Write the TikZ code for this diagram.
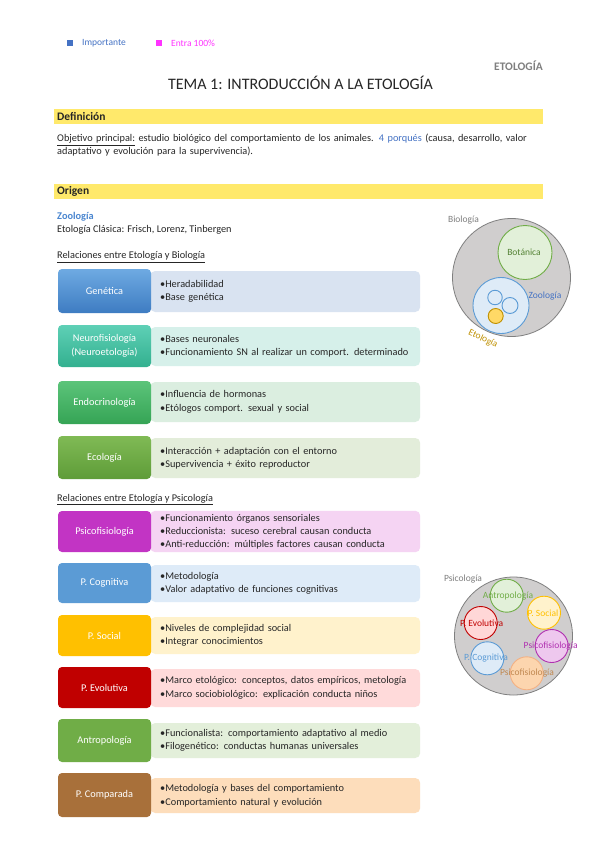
\documentclass[tikz,border=0pt]{standalone}
\usepackage{fontspec}
\setmainfont{Carlito}
\definecolor{impblue}{HTML}{4472C4}
\definecolor{entramag}{HTML}{FF33FF}
\definecolor{hdryel}{HTML}{FFE96B}
\definecolor{txtc}{HTML}{262626}
\definecolor{grayc}{HTML}{7F7F7F}
\definecolor{zoob}{HTML}{4A86D0}
% left box colours
\definecolor{genT}{HTML}{6EAAE2}\definecolor{genB}{HTML}{3E7CC2}\definecolor{genR}{HTML}{D9E3F1}
\definecolor{neuT}{HTML}{5ED0B6}\definecolor{neuB}{HTML}{33B08F}\definecolor{neuR}{HTML}{D6F0EA}
\definecolor{endT}{HTML}{5CC47A}\definecolor{endB}{HTML}{35A455}\definecolor{endR}{HTML}{DBEEE0}
\definecolor{ecoT}{HTML}{80BA55}\definecolor{ecoB}{HTML}{5E9C38}\definecolor{ecoR}{HTML}{E3EDDA}
\definecolor{psfC}{HTML}{C234C4}\definecolor{psfR}{HTML}{F5D4F3}
\definecolor{cogC}{HTML}{5B9BD5}\definecolor{cogR}{HTML}{DEEBF8}
\definecolor{socC}{HTML}{FFC000}\definecolor{socR}{HTML}{FFF2CC}
\definecolor{evoC}{HTML}{C00000}\definecolor{evoR}{HTML}{FFDADA}
\definecolor{antC}{HTML}{70AD47}\definecolor{antR}{HTML}{E3EFDA}
\definecolor{comC}{HTML}{A8703A}\definecolor{comR}{HTML}{FDDDBB}
% venn colours
\definecolor{venngray}{HTML}{D0CECE}
\definecolor{botF}{HTML}{E2F0D9}\definecolor{botS}{HTML}{70AD47}\definecolor{botT}{HTML}{548235}
\definecolor{zooF}{HTML}{DEEBF7}\definecolor{zooS}{HTML}{5B9BD5}
\definecolor{etoF}{HTML}{FFD966}\definecolor{etoS}{HTML}{BF9000}
\definecolor{evoF}{HTML}{FFD7D7}
\definecolor{psfF}{HTML}{EEC8EE}\definecolor{psfS}{HTML}{B030B0}
\definecolor{orF}{HTML}{FCD5AE}\definecolor{orS}{HTML}{F4B183}\definecolor{orT}{HTML}{C08850}
\newcommand\txtS{\fontsize{10.3}{13.5}\selectfont}
\newcommand\txtV{\fontsize{9.5}{11}\selectfont}
\newcommand\nohyphx{\hyphenpenalty=10000\relax\exhyphenpenalty=10000\relax}
\begin{document}
\begin{tikzpicture}[x=1pt,y=-1pt,
  lbox/.style={rounded corners=4pt, minimum width=93pt, text=white, align=center, font=\txtS, inner sep=1pt},
  rbox/.style={rounded corners=5pt, minimum width=270pt, text width=250pt, inner xsep=10pt, align=left, anchor=west, font=\txtS, text=txtc},
  hdr/.style={fill=hdryel, minimum width=489pt, minimum height=15pt, anchor=west, text width=483pt, inner xsep=3pt, inner ysep=0pt, font=\fontsize{11.5}{12}\selectfont\bfseries, text=txtc},
  plain/.style={anchor=west, font=\txtS, text=txtc, inner sep=0pt},
  vlab/.style={font=\txtV, inner sep=0pt},
  vbig/.style={circle, fill=venngray, draw=grayc, line width=0.8pt, inner sep=0pt},
  vsm/.style={circle, line width=0.9pt, inner sep=0pt}
]
\useasboundingbox[fill=white] (0,0) rectangle (599,848);

% legend
\node[fill=impblue, minimum size=6pt, inner sep=0pt] (sqb) at (70,43.5) {};
\node[anchor=west, text=impblue, font=\fontsize{9.5}{10}\selectfont, inner sep=0pt] (limp) at (82,43) {Importante};
\node[fill=entramag, minimum size=6pt, inner sep=0pt] (sqm) at (159,43.5) {};
\node[anchor=west, text=entramag, font=\fontsize{9.5}{10}\selectfont, inner sep=0pt] (lent) at (171,43) {Entra 100\%};
\node[anchor=east, text=grayc, font=\fontsize{11.5}{12}\selectfont\bfseries, inner sep=0pt] (etol) at (543,65.5) {ETOLOGÍA};

% title
\node[text=txtc, font=\fontsize{16}{18}\selectfont, inner sep=0pt] (title) at (300.5,83) {TEMA 1: INTRODUCCIÓN A LA ETOLOGÍA};

% Definicion
\node[hdr] (hdef) at (54,116.5) {Definición};
\node[plain, anchor=north west, text width=485pt, align=left, font=\fontsize{10.3}{12.5}\selectfont\nohyphx] (deftxt) at (57,134) {\underline{Objetivo principal:} estudio biológico del comportamiento de los animales. \textcolor{impblue}{4 porqués} (causa, desarrollo, valor adaptativo y evolución para la supervivencia).};

% Origen
\node[hdr] (horig) at (54,191.5) {Origen};
\node[plain, text=zoob, font=\txtS\bfseries] (zoo) at (57,217) {Zoología};
\node[plain] (clas) at (57,229.5) {Etología Clásica: Frisch, Lorenz, Tinbergen};
\node[plain] (relb) at (57,257) {\underline{Relaciones entre Etología y Biología}};

% Biologia rows
\node[rbox, fill=genR, minimum height=41pt] (genr) at (150,291.5) {•Heradabilidad\\•Base genética};
\node[lbox, top color=genT, bottom color=genB, minimum height=44pt] (gen) at (104.5,291) {Genética};

\node[rbox, fill=neuR, minimum height=39pt] (neur) at (150,346.5) {•Bases neuronales\\•Funcionamiento SN al realizar un comport. determinado};
\node[lbox, top color=neuT, bottom color=neuB, minimum height=42pt] (neu) at (104.5,346) {Neurofisiología\\(Neuroetología)};

\node[rbox, fill=endR, minimum height=40pt] (endr) at (150,402) {•Influencia de hormonas\\•Etólogos comport. sexual y social};
\node[lbox, top color=endT, bottom color=endB, minimum height=43pt] (endo) at (104.5,402.5) {Endocrinología};

\node[rbox, fill=ecoR, minimum height=40pt] (ecor) at (150,458) {•Interacción + adaptación con el entorno\\•Supervivencia + éxito reproductor};
\node[lbox, top color=ecoT, bottom color=ecoB, minimum height=43pt] (eco) at (104.5,457.5) {Ecología};

\node[plain] (relp) at (57,499.5) {\underline{Relaciones entre Etología y Psicología}};

% Psicologia rows
\node[rbox, fill=psfR, minimum height=37pt, font=\fontsize{10.3}{13}\selectfont] (psfr) at (150,531.5) {•Funcionamiento órganos sensoriales\\•Reduccionista: suceso cerebral causan conducta\\•Anti-reducción: múltiples factores causan conducta};
\node[lbox, fill=psfC, minimum height=41pt] (psf) at (104.5,531.5) {Psicofisiología};

\node[rbox, fill=cogR, minimum height=37pt] (cogr) at (150,583.5) {•Metodología\\•Valor adaptativo de funciones cognitivas};
\node[lbox, fill=cogC, minimum height=40pt] (cog) at (104.5,583) {P. Cognitiva};

\node[rbox, fill=socR, minimum height=37pt] (socr) at (150,635.5) {•Niveles de complejidad social\\•Integrar conocimientos};
\node[lbox, fill=socC, minimum height=41pt] (soc) at (104.5,635.5) {P. Social};

\node[rbox, fill=evoR, minimum height=38pt] (evor) at (150,688) {•Marco etológico: conceptos, datos empíricos, metología\\•Marco sociobiológico: explicación conducta niños};
\node[lbox, fill=evoC, minimum height=41pt] (evo) at (104.5,687.5) {P. Evolutiva};

\node[rbox, fill=antR, minimum height=35pt] (antr) at (150,740.5) {•Funcionalista: comportamiento adaptativo al medio\\•Filogenético: conductas humanas universales};
\node[lbox, fill=antC, minimum height=43pt] (ant) at (104.5,740.5) {Antropología};

\node[rbox, fill=comR, minimum height=35pt, minimum width=268pt] (comr) at (150,795.5) {•Metodología y bases del comportamiento\\•Comportamiento natural y evolución};
\node[lbox, fill=comC, minimum height=44pt] (com) at (104.5,795) {P. Comparada};

% Biologia Venn
\node[vbig, minimum size=118pt] (vbio) at (511.5,277.5) {};
\node[vsm, fill=botF, draw=botS, minimum size=54pt] (vbot) at (525,252.5) {};
\node[vsm, fill=zooF, draw=zooS, minimum size=56pt] (vzoo) at (501,305.5) {};
\node[vsm, fill=zooF, draw=zooS, minimum size=14.5pt] (vs1) at (495,297.5) {};
\node[vsm, fill=zooF, draw=zooS, minimum size=16pt] (vs2) at (510,305.5) {};
\node[vsm, fill=etoF, draw=etoS, minimum size=15pt] (vs3) at (495.7,316) {};
\node[vlab, text=grayc] (lbio) at (463.5,220) {Biología};
\node[vlab, text=botT] (lbot) at (524,252) {Botánica};
\node[vlab, text=impblue] (lzoo) at (545,296) {Zoología};
\node[vlab, text=etoS, rotate=-25] (leto) at (483,339) {Etología};

% Psicologia Venn
\node[vbig, minimum size=118pt] (vpsi) at (513.5,636) {};
\node[vsm, fill=botF, draw=botS, minimum size=33pt] (cant) at (506.7,595.7) {};
\node[vsm, fill=socR, draw=socC, minimum size=33pt] (csoc) at (544,612.7) {};
\node[vsm, fill=evoF, draw=evoC, minimum size=33pt] (cevo) at (480.7,623) {};
\node[vsm, fill=psfF, draw=psfS, minimum size=33pt] (cpsf) at (551.7,646) {};
\node[vsm, fill=zooF, draw=zooS, minimum size=33pt] (ccog) at (487.3,658.3) {};
\node[vsm, fill=orF, draw=orS, minimum size=33pt] (cor) at (526.7,673.3) {};
\node[vlab, text=grayc] (lpsi) at (463,579) {Psicología};
\node[vlab, text=antC] (lant) at (508,596) {Antropología};
\node[vlab, text=socC] (lsoc) at (543,613) {P. Social};
\node[vlab, text=evoC] (levo) at (481.7,623) {P. Evolutiva};
\node[vlab, text=psfS] (lpsf) at (550.7,646) {Psicofisiología};
\node[vlab, text=zooS] (lcog) at (486,658) {P. Cognitiva};
\node[vlab, text=orT] (lor) at (527,673) {Psicofisiología};
\end{tikzpicture}
\end{document}
